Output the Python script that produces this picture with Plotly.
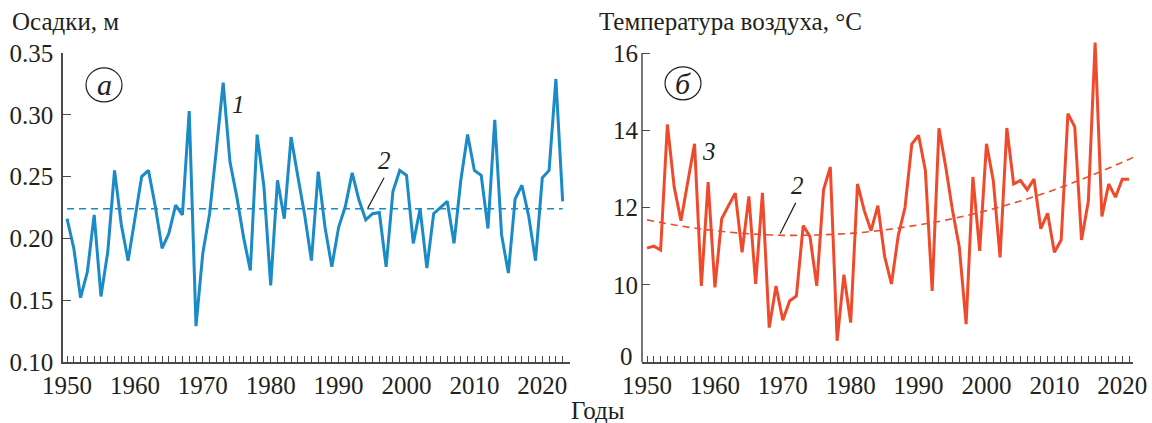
import plotly.graph_objects as go

# ---------------- data ----------------
precip_years = list(range(1950, 2024))
precip = [0.216, 0.192, 0.152, 0.173, 0.219, 0.153, 0.189, 0.255, 0.211, 0.182,
          0.216, 0.250, 0.255, 0.226, 0.192, 0.204, 0.227, 0.219, 0.303, 0.129,
          0.188, 0.220, 0.272, 0.326, 0.262, 0.234, 0.201, 0.174, 0.284, 0.242,
          0.162, 0.247, 0.216, 0.282, 0.250, 0.219, 0.182, 0.254, 0.209, 0.177,
          0.209, 0.226, 0.253, 0.231, 0.215, 0.220, 0.221, 0.177, 0.238, 0.255,
          0.251, 0.196, 0.224, 0.176, 0.220, 0.225, 0.230, 0.196, 0.247, 0.284,
          0.255, 0.251, 0.208, 0.296, 0.203, 0.172, 0.232, 0.243, 0.218, 0.182,
          0.249, 0.255, 0.329, 0.230]
precip_mean = 0.224

temp_years = list(range(1950, 2022))
temp = [10.95, 11.00, 10.90, 14.15, 12.53, 11.66, 12.66, 13.65, 9.97, 12.66,
        9.93, 11.71, 12.05, 12.37, 10.84, 12.29, 10.02, 12.38, 8.89, 9.97,
        9.08, 9.58, 9.71, 11.53, 11.25, 9.97, 12.46, 13.05, 8.55, 10.26,
        9.02, 12.61, 11.92, 11.40, 12.05, 10.73, 10.02, 11.27, 12.00, 13.64,
        13.87, 12.96, 9.84, 14.05, 13.05, 11.92, 10.97, 8.98, 12.79, 10.88,
        13.65, 12.70, 10.71, 14.06, 12.61, 12.70, 12.46, 12.74, 11.45, 11.85,
        10.84, 11.16, 14.43, 14.09, 11.16, 12.16, 16.27, 11.77, 12.61, 12.27,
        12.73, 12.73]

trend_years = [1950, 1955, 1960, 1965, 1970, 1975, 1980, 1985, 1990, 1995,
               2000, 2005, 2010, 2015, 2020, 2022]
trend = [11.68, 11.52, 11.40, 11.32, 11.28, 11.29, 11.33, 11.42, 11.55, 11.71,
         11.92, 12.17, 12.46, 12.80, 13.17, 13.33]

precip_ticks = [0.10, 0.15, 0.20, 0.25, 0.30, 0.35]
precip_ticktext = ["0.10", "0.15", "0.20", "0.25", "0.30", "0.35"]
temp_ticks = [8, 10, 12, 14, 16]
temp_ticktext = ["", "10", "12", "14", "16"]   # bottom label "0" drawn as annotation
temp_bottom_label = "0"
year_ticks = [1950, 1960, 1970, 1980, 1990, 2000, 2010, 2020]

# ---------------- style ----------------
W, H = 1152, 423
FONT = "Liberation Serif"
TXT = "#231f20"
AX = "#4a4a4a"
BLUE = "#1a8bc6"
RED = "#f04a2c"


def px(x):
    return x / W


def py(y):
    return 1 - y / H


fig = go.Figure()

fig.add_trace(go.Scatter(x=precip_years, y=precip, mode="lines",
                         line=dict(color=BLUE, width=3), xaxis="x", yaxis="y",
                         showlegend=False, hoverinfo="skip"))
fig.add_trace(go.Scatter(x=[precip_years[0], precip_years[-1]],
                         y=[precip_mean, precip_mean], mode="lines",
                         line=dict(color=BLUE, width=1.6, dash="7px,5px"),
                         xaxis="x", yaxis="y", showlegend=False, hoverinfo="skip"))

fig.add_trace(go.Scatter(x=temp_years, y=temp, mode="lines",
                         line=dict(color=RED, width=3), xaxis="x2", yaxis="y2",
                         showlegend=False, hoverinfo="skip"))
fig.add_trace(go.Scatter(x=trend_years, y=trend, mode="lines",
                         line=dict(color=RED, width=1.6, dash="7px,5px", shape="spline"),
                         xaxis="x2", yaxis="y2", showlegend=False, hoverinfo="skip"))

tickfont = dict(family=FONT, size=25, color=TXT)

xcommon = dict(showline=True, linecolor=AX, linewidth=1.5, ticks="inside",
               ticklen=6, tickwidth=1, tickcolor=AX, tickvals=year_ticks,
               minor=dict(dtick=1, ticks="inside", ticklen=6, tickwidth=1,
                          tickcolor=AX, showgrid=False),
               showgrid=False, zeroline=False, tickfont=tickfont,
               automargin=False, fixedrange=True)

ycommon = dict(ticks="inside", ticklen=8, tickwidth=1.2, tickcolor=AX,
               showgrid=False, zeroline=False, tickfont=tickfont,
               automargin=False, fixedrange=True, ticklabelstandoff=3)

fig.update_layout(
    width=W, height=H, autosize=False,
    margin=dict(l=0, r=0, t=0, b=0, pad=0, autoexpand=False),
    paper_bgcolor="white", plot_bgcolor="white",
    font=dict(family=FONT, color=TXT),
    xaxis=dict(domain=[px(63), px(570)], range=[1949.41, 2024.08], anchor="y", **xcommon),
    yaxis=dict(domain=[py(362), py(53)], range=[0.10, 0.35], anchor="x",
               tickvals=precip_ticks, ticktext=precip_ticktext,
               showline=True, linecolor=AX, linewidth=1.5, **ycommon),
    xaxis2=dict(domain=[px(642), px(1133)], range=[1949.26, 2021.58], anchor="y2", **xcommon),
    yaxis2=dict(domain=[py(362), py(37.6)], range=[8, 16.4], anchor="x2",
                tickvals=temp_ticks, ticktext=temp_ticktext,
                showline=False, **ycommon),
)

shapes = [
    # y axis line of the temperature panel (stops at 16)
    dict(type="line", xref="x2 domain", yref="y2", x0=0, x1=0, y0=8, y1=16,
         line=dict(color=AX, width=1.5)),
    # panel markers (circles)
    dict(type="circle", xref="x", yref="y", x0=1952.8, x1=1958.1, y0=0.3104, y1=0.3379,
         line=dict(color=TXT, width=1.2)),
    dict(type="circle", xref="x2", yref="y2", x0=1952.65, x1=1957.95, y0=14.79, y1=15.64,
         line=dict(color=TXT, width=1.2)),
    # leader lines for label 2
    dict(type="line", xref="x", yref="y", x0=1996.7, y0=0.249, x1=1994.3, y1=0.2245,
         line=dict(color=TXT, width=1.2)),
    dict(type="line", xref="x2", yref="y2", x0=1971.9, y0=12.12, x1=1969.6, y1=11.32,
         line=dict(color=TXT, width=1.2)),
]
fig.update_layout(shapes=shapes)

ann_font = dict(family=FONT, size=25, color=TXT)
annotations = [
    dict(text="Осадки, м", xref="paper", yref="paper", x=px(10), y=py(22),
         xanchor="left", yanchor="middle", showarrow=False,
         font=dict(family=FONT, size=25, color=TXT)),
    dict(text="Температура воздуха, °С", xref="paper", yref="paper", x=px(597), y=py(22),
         xanchor="left", yanchor="middle", showarrow=False,
         font=dict(family=FONT, size=25, color=TXT)),
    dict(text="Годы", xref="paper", yref="paper", x=px(598), y=py(410),
         xanchor="center", yanchor="middle", showarrow=False,
         font=dict(family=FONT, size=25, color=TXT)),
    # bottom label of the temperature axis (sits slightly above the year labels)
    dict(text=temp_bottom_label, xref="x2 domain", yref="y2", x=0, y=temp_ticks[0],
         xanchor="right", yanchor="bottom", xshift=-8, yshift=-9, showarrow=False,
         font=tickfont, borderpad=0),
    dict(text="<i>а</i>", xref="x", yref="y", x=1955.45, y=0.3245, showarrow=False,
         xanchor="center", yanchor="middle", font=dict(family=FONT, size=30, color=TXT)),
    dict(text="<i>б</i>", xref="x2", yref="y2", x=1955.3, y=15.22, showarrow=False,
         xanchor="center", yanchor="middle", font=dict(family=FONT, size=30, color=TXT)),
    dict(text="<i>1</i>", xref="x", yref="y", x=1975.2, y=0.308, showarrow=False,
         xanchor="center", yanchor="middle", font=ann_font),
    dict(text="<i>2</i>", xref="x", yref="y", x=1996.7, y=0.263, showarrow=False,
         xanchor="center", yanchor="middle", font=ann_font),
    dict(text="<i>3</i>", xref="x2", yref="y2", x=1959.1, y=13.44, showarrow=False,
         xanchor="center", yanchor="middle", font=ann_font),
    dict(text="<i>2</i>", xref="x2", yref="y2", x=1972.1, y=12.56, showarrow=False,
         xanchor="center", yanchor="middle", font=ann_font),
]
fig.update_layout(annotations=annotations)

fig.write_html(
    "out.html",
    config={"displayModeBar": False, "responsive": False},
    post_script="document.documentElement.style.margin='0';"
                "document.body.style.margin='0';document.body.style.padding='0';"
                "document.body.style.overflow='hidden';",
)
